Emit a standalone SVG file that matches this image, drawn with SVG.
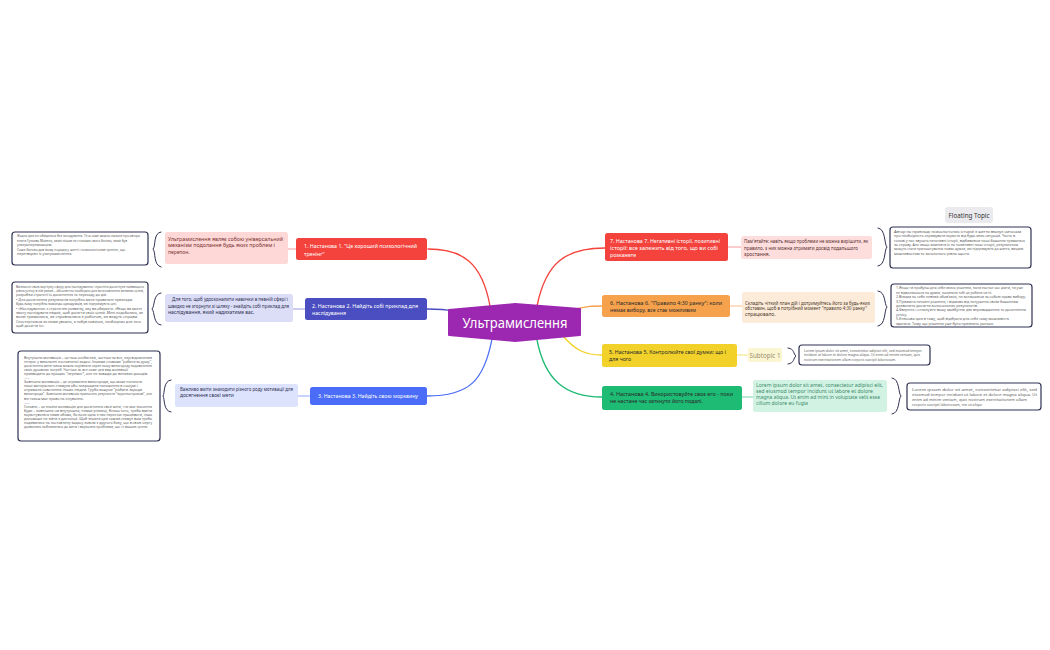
<svg xmlns="http://www.w3.org/2000/svg" width="1050" height="650" viewBox="0 0 1050 650">
<style>
text{font-family:"Noto Sans","DejaVu Sans",sans-serif}
.c{fill:none;stroke-width:1.3;stroke-linecap:round}
.s{fill:none;stroke-width:1.2}
.box{fill:#fff;stroke:#2f3152;stroke-width:1.2}
.br{fill:none;stroke:#2f3152;stroke-width:1;stroke-linecap:round}
.nt{font-size:5.2px;fill:#fff}
.nd{font-size:5.2px;fill:#2a2a2a}
.tx{font-size:4.9px}
.bt{font-size:3.6px;fill:#5a5a5a}
</style>
<rect width="1050" height="650" fill="#fff"/>
<g id="connectors">
<path class="c" stroke="#F4433C" d="M490,306 C482,262 462,249 428,249"/>
<path class="c" stroke="#4B4EC0" d="M452,311 C445,309 440,309 427,309"/>
<path class="c" stroke="#4A6CF6" d="M492,339 C484,380 470,396 427,396"/>
<path class="c" stroke="#F4433C" d="M537,306 C546,262 566,248 605,248"/>
<path class="c" stroke="#F6A24D" d="M576,309 C588,306 592,306 602,306"/>
<path class="c" stroke="#F2D12A" d="M563,336 C575,350 585,355 602,355"/>
<path class="c" stroke="#1DBB74" d="M537,340 C545,380 565,397 602,397"/>
<path class="s" stroke="#F8ABA8" d="M296,249 H288"/>
<path class="s" stroke="#A9ABE3" d="M305,309 H293"/>
<path class="s" stroke="#A5B5FA" d="M310,396 H298"/>
<path class="s" stroke="#F8ABA8" d="M728,247 H741"/>
<path class="s" stroke="#FAC99A" d="M730,306 H742"/>
<path class="s" stroke="#F7E68A" d="M737,355 H748"/>
<path class="s" stroke="#8EDDB8" d="M742,397 H753"/>
<path class="br" d="M161,232 C153,233 156,246 153,249 C156,252 153,265 161,267"/>
<path class="br" d="M161,293 C153,294 155,306 152,309 C155,312 153,324 161,325"/>
<path class="br" d="M171,380 C163,381 165,393 163,396 C165,399 163,411 171,412"/>
<path class="br" d="M878,228 C886,229 884,244 887,247 C884,250 886,265 878,266"/>
<path class="br" d="M878,291 C886,292 884,304 887,307 C884,310 886,325 878,326"/>
<path class="br" d="M788,348 C795,349 793,354 796,356 C793,358 795,363 788,364"/>
<path class="br" d="M892,378 C900,379 898,393 901,396 C898,399 900,413 892,414"/>
</g>
<g id="center">
<path d="M449,310 L515,304 L580,309 L580,335 L515,341 L449,335 Z" fill="#9C27B0" stroke="#9C27B0" stroke-width="2" stroke-linejoin="round"/>
<text x="515" y="327.5" text-anchor="middle" font-size="15" fill="#fff" textLength="105" lengthAdjust="spacingAndGlyphs">Ультрамислення</text>
</g>
<g id="node1">
<rect x="296" y="238" width="131" height="22" rx="2.5" fill="#F4433C"/>
<text class="nt" x="304" y="248" textLength="113" lengthAdjust="spacingAndGlyphs">1. Настанова 1. "Це хороший психологічний</text>
<text class="nt" x="304" y="255.5">тренінг"</text>
</g>
<g id="note1">
<rect x="165" y="232" width="123" height="32" rx="2.5" fill="#FDD8D6"/>
<text class="tx" fill="#7a3030" x="168" y="240.5" textLength="115" lengthAdjust="spacingAndGlyphs">Ультрамислення являє собою універсальний</text>
<text class="tx" fill="#7a3030" x="168" y="247" textLength="107" lengthAdjust="spacingAndGlyphs">механізм подолання будь яких проблем і</text>
<text class="tx" fill="#7a3030" x="168" y="254">перепон.</text>
</g>
<g id="box1">
<rect class="box" x="12" y="232" width="136" height="33" rx="3"/>
<text class="bt" x="17" y="237.2" textLength="123" lengthAdjust="spacingAndGlyphs">Жодна ідея не обійдеться без нагадування. Те ж саме можна сказати про автора</text>
<text class="bt" x="17" y="241.9" textLength="110" lengthAdjust="spacingAndGlyphs">книги Гуляєва Майкла, який пішов не стопами свого батька, який був</text>
<text class="bt" x="17" y="246.2">ультрапереможцем.</text>
<text class="bt" x="17" y="250.5" textLength="108" lengthAdjust="spacingAndGlyphs">Саме батько дав йому поради у житті і психологічний тренінг, що</text>
<text class="bt" x="17" y="254.5">перетворює їх ультрамислення.</text>
</g>
<g id="node2">
<rect x="305" y="298" width="122" height="22" rx="2.5" fill="#4B4EC0"/>
<text class="nt" x="312" y="307.5" textLength="106" lengthAdjust="spacingAndGlyphs">2. Настанова 2. Найдіть собі приклад для</text>
<text class="nt" x="312" y="314.5">наслідування</text>
</g>
<g id="note2">
<rect x="165" y="294" width="128" height="28" rx="2.5" fill="#DCDDF6"/>
<text class="tx" fill="#2f3152" x="172" y="301" textLength="116" lengthAdjust="spacingAndGlyphs">Для того, щоб удосконалити навички в певній сфері і</text>
<text class="tx" fill="#2f3152" x="168" y="307.5" textLength="121" lengthAdjust="spacingAndGlyphs">швидко не згорнути зі шляху - знайдіть собі приклад для</text>
<text class="tx" fill="#2f3152" x="168" y="314">наслідування, який надихатиме вас.</text>
</g>
<g id="box2">
<rect class="box" x="12" y="282" width="136" height="51" rx="3"/>
<text class="bt" x="16" y="287.5" textLength="128" lengthAdjust="spacingAndGlyphs">Визначте свою кар'єрну сферу для наслідування і прагніть досягнути найвищого</text>
<text class="bt" x="16" y="291.9" textLength="128" lengthAdjust="spacingAndGlyphs">рівня успіху в ній ризик – абсолютно необхідно для встановлення великих цілей,</text>
<text class="bt" x="16" y="296.3" textLength="91" lengthAdjust="spacingAndGlyphs">розробки стратегії їх досягнення та переходу до дій.</text>
<text class="bt" x="16" y="300.7" textLength="117" lengthAdjust="spacingAndGlyphs">•      Для досягнення результатів потрібно мати правильні приклади.</text>
<text class="bt" x="16" y="305.1" textLength="101" lengthAdjust="spacingAndGlyphs">Будь-кому потрібна команда однодумців, які підтримують цілі.</text>
<text class="bt" x="16" y="309.5" textLength="126" lengthAdjust="spacingAndGlyphs">•      «Наслідування» є стратегією розвитку, яку ви обираєте. «Якщо ви маєте</text>
<text class="bt" x="16" y="313.9" textLength="127" lengthAdjust="spacingAndGlyphs">змогу наслідувати людей, щоб досягти своїх цілей. Мені подобались, як</text>
<text class="bt" x="16" y="318.3" textLength="122" lengthAdjust="spacingAndGlyphs">вони трималися, як справлялися з роботою, як ведуть справи.</text>
<text class="bt" x="16" y="322.7" textLength="125" lengthAdjust="spacingAndGlyphs">Спостерігаючи за ними уважно, я набув навичок, необхідних для того</text>
<text class="bt" x="16" y="327.1">щоб досягти їх».</text>
</g>
<g id="node3">
<rect x="310" y="387" width="117" height="18" rx="2.5" fill="#4A6CF6"/>
<text class="nt" x="318" y="398" textLength="100" lengthAdjust="spacingAndGlyphs">3. Настанова 3. Найдіть свою морквину</text>
</g>
<g id="note3">
<rect x="175" y="384" width="123" height="23" rx="2.5" fill="#DDE3FD"/>
<text class="tx" fill="#2f3152" x="180" y="390.5" textLength="113" lengthAdjust="spacingAndGlyphs">Важливо вміти знаходити різного роду мотивації для</text>
<text class="tx" fill="#2f3152" x="180" y="397">досягнення своєї мети</text>
</g>
<g id="box3">
<rect class="box" x="18" y="351" width="142" height="90" rx="3"/>
<text class="bt" x="24" y="358.5" textLength="128" lengthAdjust="spacingAndGlyphs">Внутрішня мотивація – це наш особистий, частіше за все, неусвідомлений</text>
<text class="bt" x="24" y="362.6" textLength="128" lengthAdjust="spacingAndGlyphs">інтерес у виконанні поставленої задачі. Іншими словами "робити за душу",</text>
<text class="bt" x="24" y="366.7" textLength="128" lengthAdjust="spacingAndGlyphs">досягнення мети також можна порівняти через нашу винагороду задоволення</text>
<text class="bt" x="24" y="370.8" textLength="104" lengthAdjust="spacingAndGlyphs">своїх духовних потреб. Частіше за все саме цей вид мотивації</text>
<text class="bt" x="24" y="374.9" textLength="124" lengthAdjust="spacingAndGlyphs">призводить до кращих "перемог", але не завжди до великих доходів.</text>
<text class="bt" x="24" y="379">-----</text>
<text class="bt" x="24" y="383.1" textLength="118" lengthAdjust="spacingAndGlyphs">Зовнішня мотивація – це отримання винагороди, що може полягати</text>
<text class="bt" x="24" y="387.2" textLength="114" lengthAdjust="spacingAndGlyphs">наші матеріальні стимули або покращити положення в соціумі і</text>
<text class="bt" x="24" y="391.3" textLength="118" lengthAdjust="spacingAndGlyphs">отримати схвалення інших людей. Грубо кажучи "робити заради</text>
<text class="bt" x="24" y="395.4" textLength="128" lengthAdjust="spacingAndGlyphs">винагороди". Зовнішня мотивація приносить результати "короткострокові", але</text>
<text class="bt" x="24" y="399.5">він також має право на існування.</text>
<text class="bt" x="24" y="403.6">-----</text>
<text class="bt" x="24" y="407.7" textLength="128" lengthAdjust="spacingAndGlyphs">Головне – це знайти мотивацію для досягнення своєї мети, і не має значення</text>
<text class="bt" x="24" y="411.8" textLength="128" lengthAdjust="spacingAndGlyphs">буде – зовнішня чи внутрішня, немає різниці, більш того, треба вміти</text>
<text class="bt" x="24" y="415.9" textLength="128" lengthAdjust="spacingAndGlyphs">користуватися ними обома, бо коли одна з них перестає працювати, інша</text>
<text class="bt" x="24" y="420" textLength="128" lengthAdjust="spacingAndGlyphs">допоможе не зійти з дистанції. Щоб знайти цей самий стимул вам треба</text>
<text class="bt" x="24" y="424.1" textLength="128" lengthAdjust="spacingAndGlyphs">подивитись на поставлену задачу зовсім з другого боку, що в свою чергу</text>
<text class="bt" x="24" y="428.2" textLength="124" lengthAdjust="spacingAndGlyphs">дозволить наблизитись до мети і вирішити проблеми, що і є вашою ціллю.</text>
</g>
<g id="node7">
<rect x="605" y="233" width="123" height="28" rx="2.5" fill="#F4433C"/>
<text class="nt" x="610" y="243" textLength="110" lengthAdjust="spacingAndGlyphs">7. Настанова 7. Негативні історії, позитивні</text>
<text class="nt" x="610" y="250" textLength="108" lengthAdjust="spacingAndGlyphs">історії: все залежить від того, що ви собі</text>
<text class="nt" x="610" y="257">розкажете</text>
</g>
<g id="note7">
<rect x="741" y="236" width="131" height="23" rx="2.5" fill="#FDDEDD"/>
<text class="tx" fill="#5a2e2e" x="744" y="243" textLength="124" lengthAdjust="spacingAndGlyphs">Пам'ятайте: навіть якщо проблеми не можна вирішити, як</text>
<text class="tx" fill="#5a2e2e" x="744" y="249.5" textLength="114" lengthAdjust="spacingAndGlyphs">правило, з них можна отримати досвід подальшого</text>
<text class="tx" fill="#5a2e2e" x="744" y="256">зростання.</text>
</g>
<g id="box7">
<rect class="box" x="890" y="227" width="141" height="41" rx="3"/>
<text class="bt" x="894" y="233" textLength="127" lengthAdjust="spacingAndGlyphs">Автор на прикладі психологічних історій з життя вказує читачам</text>
<text class="bt" x="894" y="237.3" textLength="121" lengthAdjust="spacingAndGlyphs">про необхідність отримувати користь від будь-яких ситуацій. Часто в</text>
<text class="bt" x="894" y="241.6" textLength="131" lengthAdjust="spacingAndGlyphs">голові у нас звучать негативні історії, відбиваючи наші бажання триматись</text>
<text class="bt" x="894" y="245.9" textLength="124" lengthAdjust="spacingAndGlyphs">за справу. Але якщо замінити їх на позитивні наші історії, результатом</text>
<text class="bt" x="894" y="250.2" textLength="129" lengthAdjust="spacingAndGlyphs">можуть стати прилаштування нових думок, які підтримують до життя, вищим</text>
<text class="bt" x="894" y="254.5" textLength="76" lengthAdjust="spacingAndGlyphs">можливостям та загального рівня щастя.</text>
</g>
<g id="floating">
<rect x="945" y="207" width="48" height="16" rx="3" fill="#EBEBEF"/>
<text x="969" y="217.5" text-anchor="middle" font-size="6.3" fill="#333">Floating Topic</text>
</g>
<g id="node6">
<rect x="602" y="295" width="128" height="22" rx="2.5" fill="#F6A24D"/>
<text class="nd" x="610" y="305" textLength="112" lengthAdjust="spacingAndGlyphs">6. Настанова 6. "Правило 4:30 ранку": коли</text>
<text class="nd" x="610" y="311.5">немає вибору, все стає можливим</text>
</g>
<g id="note6">
<rect x="742" y="292" width="133" height="31" rx="2.5" fill="#FDEBDA"/>
<text class="tx" fill="#4a3a2a" x="745" y="304.5" textLength="125" lengthAdjust="spacingAndGlyphs">Складіть чіткий план дій і дотримуйтесь його за будь-яких</text>
<text class="tx" fill="#4a3a2a" x="745" y="310" textLength="122" lengthAdjust="spacingAndGlyphs">обставин, щоб в потрібний момент "правило 4:30 ранку"</text>
<text class="tx" fill="#4a3a2a" x="745" y="315.5">спрацювало.</text>
</g>
<g id="box6">
<rect class="box" x="891" y="284" width="141" height="43" rx="3"/>
<text class="bt" x="896" y="289.2" textLength="127" lengthAdjust="spacingAndGlyphs">1.Якщо ти пробуєш для себе якесь рішення, коли настає час діяти, ти уже</text>
<text class="bt" x="896" y="293.6" textLength="96" lengthAdjust="spacingAndGlyphs">не відволікаєшся на думки, починати тобі це робити чи ні.</text>
<text class="bt" x="896" y="298.1" textLength="130" lengthAdjust="spacingAndGlyphs">2.Візьми на себе певний обов'язок, не залишаючи за собою права вибору.</text>
<text class="bt" x="896" y="302.5" textLength="122" lengthAdjust="spacingAndGlyphs">3.Прийміть негайні рішення, і відмова від потурання своїм бажанням</text>
<text class="bt" x="896" y="307" textLength="82" lengthAdjust="spacingAndGlyphs">дозволить досягти колосальних результатів.</text>
<text class="bt" x="896" y="311.4" textLength="130" lengthAdjust="spacingAndGlyphs">4.Зверніть і сплануйте вашу майбутню дію впровадження та досягнення</text>
<text class="bt" x="896" y="315.9">успіху.</text>
<text class="bt" x="896" y="320.3" textLength="113" lengthAdjust="spacingAndGlyphs">5.Ключова ідея в тому, щоб відібрати для себе саму можливість</text>
<text class="bt" x="896" y="324.8" textLength="98" lengthAdjust="spacingAndGlyphs">здатися. Тому що рішення уже було прийнято раніше.</text>
</g>
<g id="node5">
<rect x="602" y="344" width="135" height="23" rx="2.5" fill="#F2D12A"/>
<text class="nd" x="609" y="354" textLength="117" lengthAdjust="spacingAndGlyphs">5. Настанова 5. Контролюйте свої думки: що і</text>
<text class="nd" x="609" y="360.5">для чого</text>
</g>
<g id="subtopic1">
<rect x="748" y="348" width="34" height="14" rx="2" fill="#FCF5D2"/>
<text x="765" y="357.5" text-anchor="middle" font-size="6.3" fill="#9a9070">Subtopic 1</text>
</g>
<g id="box5">
<rect class="box" x="799" y="345" width="131" height="20" rx="3"/>
<text class="bt" x="804" y="351.5" textLength="118" lengthAdjust="spacingAndGlyphs">Lorem ipsum dolor sit amet, consectetur adipisci elit, sed eiusmod tempor</text>
<text class="bt" x="804" y="356" textLength="116" lengthAdjust="spacingAndGlyphs">incidunt ut labore et dolore magna aliqua. Ut enim ad minim veniam, quis</text>
<text class="bt" x="804" y="360.5" textLength="92" lengthAdjust="spacingAndGlyphs">nostrum exercitationem ullam corporis suscipit laboriosam.</text>
</g>
<g id="node4">
<rect x="602" y="386" width="140" height="24" rx="2.5" fill="#1DBB74"/>
<text class="nd" x="610" y="395.5" textLength="123" lengthAdjust="spacingAndGlyphs">4. Настанова 4. Використовуйте своє его - поки</text>
<text class="nd" x="610" y="403">не настане час заткнути його подалі.</text>
</g>
<g id="note4">
<rect x="753" y="380" width="134" height="32" rx="2.5" fill="#D2F3E4"/>
<text font-size="5.1" fill="#3b8a68" x="756" y="387" textLength="127" lengthAdjust="spacingAndGlyphs">Lorem ipsum dolor sit amet, consectetur adipisci elit,</text>
<text font-size="5.1" fill="#3b8a68" x="756" y="393" textLength="117" lengthAdjust="spacingAndGlyphs">sed eiusmod tempor incidunt ut labore et dolore</text>
<text font-size="5.1" fill="#3b8a68" x="756" y="399" textLength="124" lengthAdjust="spacingAndGlyphs">magna aliqua. Ut enim ad mint in voluptate velit esse</text>
<text font-size="5.1" fill="#3b8a68" x="756" y="405">cillum dolore eu fugia</text>
</g>
<g id="box4">
<rect class="box" x="907" y="383" width="134" height="27" rx="3"/>
<text class="bt" font-size="4.2" x="912" y="390.5" textLength="125" lengthAdjust="spacingAndGlyphs">Lorem ipsum dolor sit amet, consectetur adipisci elit, sed</text>
<text class="bt" font-size="4.2" x="912" y="395.7" textLength="125" lengthAdjust="spacingAndGlyphs">eiusmod tempor incidunt ut labore et dolore magna aliqua. Ut</text>
<text class="bt" font-size="4.2" x="912" y="400.9" textLength="115" lengthAdjust="spacingAndGlyphs">enim ad minim veniam, quis nostrum exercitationem ullam</text>
<text class="bt" font-size="4.2" x="912" y="406.1">corporis suscipit laboriosam, nisi ut aliqui</text>
</g>
</svg>
